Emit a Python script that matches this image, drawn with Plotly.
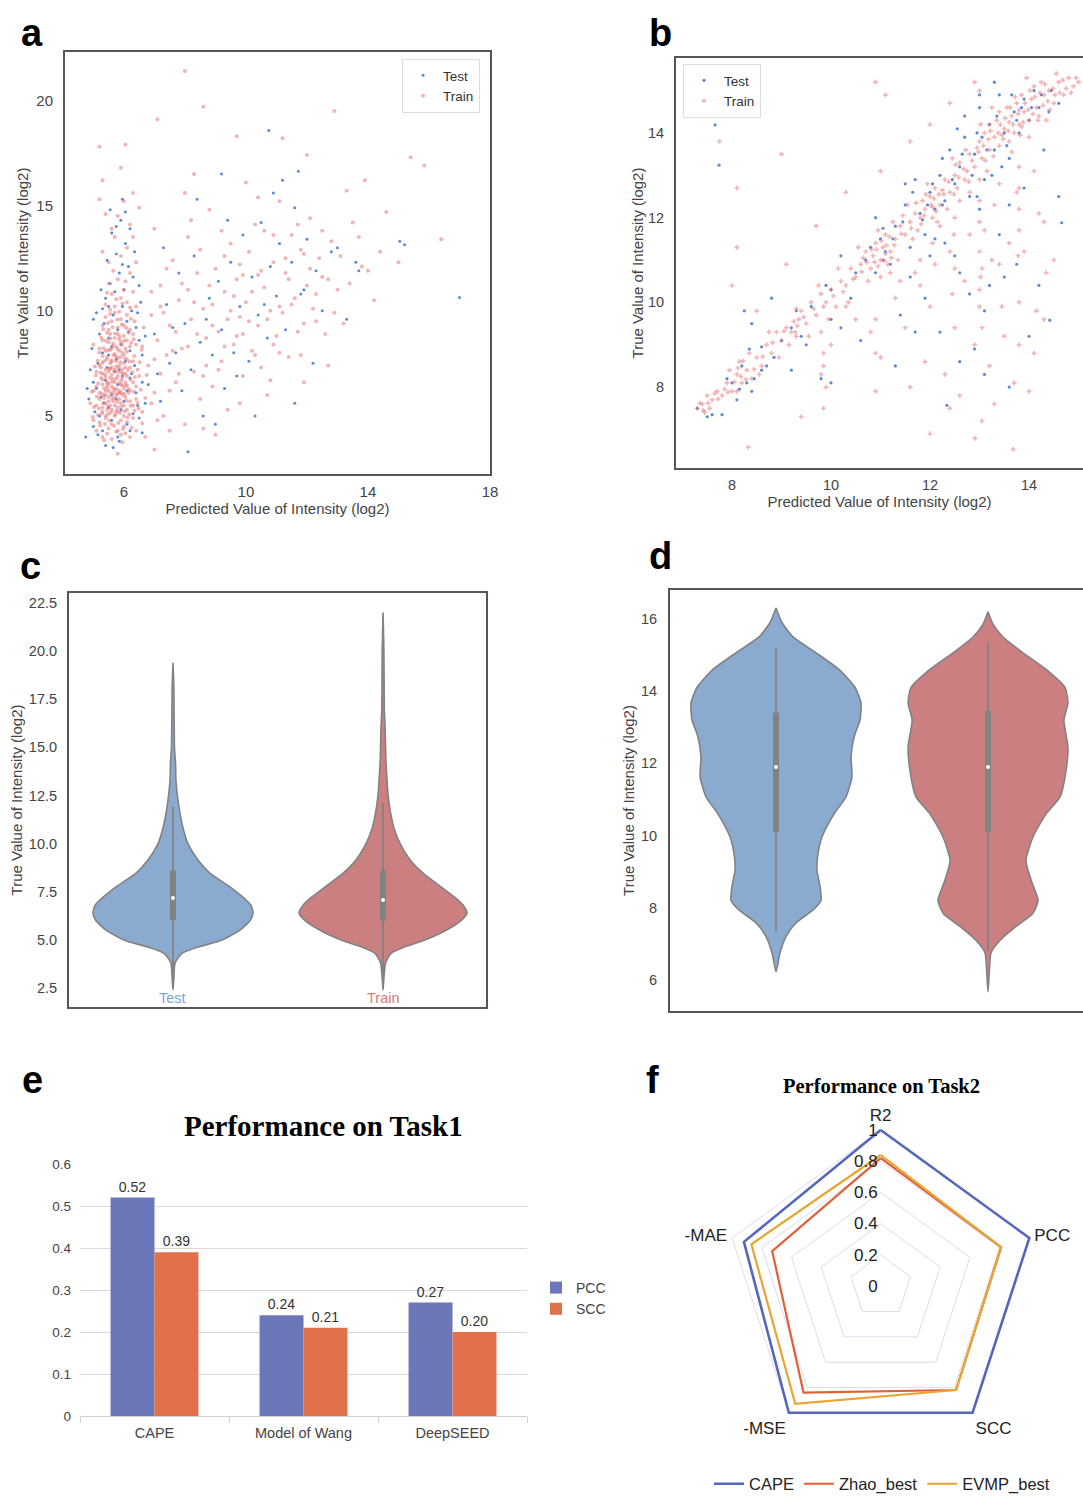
import plotly.graph_objects as go

W, H = 1083, 1496


def px(x):
    return x / W


def py(y):
    return 1 - y / H


# ---------------- data ----------------
# panel a: (predicted, true)
a_test = [
    (5.0, 4.5), (5.2, 5.0), (5.3, 4.3), (5.5, 5.4), (5.6, 4.8), (5.8, 4.0), (5.9, 5.3), (6.1, 4.6), (6.3, 5.1),
    (6.5, 4.9), (4.85, 5.8), (5.1, 6.3), (5.25, 5.9), (5.4, 6.7), (5.6, 6.0), (5.7, 7.1), (5.8, 6.5), (5.95, 6.9),
    (6.1, 6.2), (6.2, 6.8), (6.4, 6.1), (6.6, 6.6), (5.15, 7.5), (5.3, 8.0), (5.45, 7.3), (5.6, 8.3), (5.75, 7.7),
    (5.9, 8.4), (6.05, 7.6), (6.2, 8.1), (6.35, 7.4), (6.5, 8.6), (5.2, 8.9), (5.35, 9.4), (5.5, 8.7), (5.65, 9.8),
    (5.8, 9.1), (5.95, 10.2), (6.1, 9.5), (6.25, 10.0), (6.4, 9.2), (5.4, 10.6), (5.55, 11.3), (5.7, 10.9),
    (5.85, 11.8), (6.0, 11.0), (6.15, 12.1), (5.45, 12.4), (5.75, 12.7), (6.05, 13.2), (5.6, 13.7), (5.9, 14.3),
    (6.2, 13.9), (5.55, 14.8), (5.95, 15.3), (5.0, 9.6), (4.9, 7.2), (6.55, 10.4), (5.65, 3.5), (4.75, 4.0),
    (6.3, 11.6), (5.35, 5.6), (5.75, 5.8), (6.0, 5.7), (5.5, 7.9), (5.85, 7.2), (6.15, 9.0), (5.3, 10.1),
    (5.05, 5.2), (5.15, 4.1), (6.45, 5.5), (6.6, 7.9), (6.7, 8.8), (5.0, 6.6), (4.95, 8.2), (6.45, 9.9),
    (5.25, 11.0), (6.35, 12.8), (5.85, 3.8), (5.4, 3.6), (6.2, 4.3), (6.7, 5.6), (5.1, 9.9), (6.5, 11.2),
    (5.75, 14.0), (6.05, 14.7), (5.5, 10.2), (6.25, 7.0), (4.8, 6.3), (5.95, 12.2), (6.6, 4.2),
    (6.8, 6.5), (7.0, 8.9), (7.2, 5.7), (7.4, 10.3), (7.5, 7.5), (7.7, 8.0), (7.8, 11.8), (7.9, 6.2), (8.0, 9.4),
    (8.2, 7.2), (8.3, 12.6), (8.5, 8.5), (8.6, 5.0), (8.8, 10.6), (8.9, 7.9), (9.1, 11.4), (9.2, 9.1), (9.3, 6.3),
    (9.5, 12.3), (9.6, 8.0), (9.8, 10.2), (9.9, 13.6), (10.1, 7.6), (10.2, 11.6), (10.4, 9.8), (10.5, 14.2),
    (10.7, 8.7), (10.8, 12.1), (11.0, 10.7), (11.1, 13.2), (11.3, 9.1), (11.5, 12.3), (11.6, 5.6), (11.8, 10.8),
    (12.0, 13.4), (12.3, 11.9), (12.5, 10.0), (12.8, 12.8), (13.3, 9.6), (13.6, 12.3), (13.7, 11.9), (7.3, 13.0),
    (8.4, 15.3), (9.4, 14.3), (10.9, 15.6), (11.6, 14.9), (12.2, 7.5), (10.3, 5.0), (8.1, 3.3), (9.0, 4.6),
    (13.0, 13.0), (11.9, 11.0), (7.1, 7.0), (7.6, 9.2), (8.7, 9.6), (9.7, 6.9), (10.6, 10.3),
    (17.0, 10.63), (15.2, 13.14), (15.04, 13.3), (11.72, 16.63), (10.75, 18.57), (9.2, 16.5), (11.2, 16.2),
]
a_train = [
    (5.3, 4.0), (5.6, 3.9), (5.9, 4.1), (6.2, 4.0), (5.1, 4.3), (5.5, 4.4), (5.8, 4.3), (6.0, 4.5), (6.4, 4.3),
    (5.0, 4.8), (5.2, 4.7), (5.4, 4.9), (5.6, 4.6), (5.7, 5.0), (5.9, 4.8), (6.1, 4.7), (6.3, 4.9), (5.5, 5.1),
    (5.8, 5.2), (6.0, 5.0), (5.3, 5.2), (5.1, 5.5), (5.2, 5.8), (5.3, 5.4), (5.4, 5.6), (5.5, 5.9), (5.6, 5.3),
    (5.65, 5.7), (5.7, 5.5), (5.75, 6.0), (5.8, 5.4), (5.85, 5.8), (5.9, 5.6), (6.0, 5.5), (6.05, 5.9), (6.1, 5.3),
    (6.2, 5.7), (6.3, 5.5), (6.4, 5.8), (4.9, 5.6), (5.35, 6.0), (5.45, 5.3), (5.55, 5.5), (5.95, 6.0), (6.15, 6.1),
    (5.0, 6.2), (5.1, 6.4), (5.2, 6.1), (5.3, 6.5), (5.35, 6.3), (5.4, 6.0), (5.45, 6.6), (5.5, 6.2), (5.55, 6.8),
    (5.6, 6.4), (5.65, 6.1), (5.7, 6.6), (5.75, 6.3), (5.8, 6.9), (5.85, 6.2), (5.9, 6.5), (5.95, 6.8), (6.0, 6.3),
    (6.05, 6.6), (6.1, 6.9), (6.2, 6.2), (6.3, 6.6), (6.4, 6.4), (6.5, 6.9), (5.25, 6.8), (5.6, 6.95), (5.9, 6.1),
    (5.5, 6.55), (5.1, 7.1), (5.2, 7.4), (5.3, 7.0), (5.35, 7.6), (5.4, 7.2), (5.45, 7.8), (5.5, 7.1), (5.55, 7.5),
    (5.6, 7.3), (5.65, 7.9), (5.7, 7.2), (5.75, 7.6), (5.8, 7.1), (5.85, 7.4), (5.9, 7.8), (5.95, 7.2), (6.0, 7.5),
    (6.05, 7.0), (6.1, 7.7), (6.2, 7.3), (6.3, 7.6), (6.45, 7.2), (5.3, 7.85), (5.7, 7.95), (6.0, 7.9),
    (5.2, 8.2), (5.3, 8.6), (5.4, 8.1), (5.5, 8.5), (5.55, 8.9), (5.6, 8.2), (5.7, 8.7), (5.75, 8.3), (5.8, 8.9),
    (5.85, 8.1), (5.9, 8.5), (6.0, 8.8), (6.05, 8.2), (6.1, 8.6), (6.2, 8.3), (6.3, 8.9), (6.4, 8.4), (5.45, 8.95),
    (5.95, 8.0), (5.65, 8.45), (5.3, 9.3), (5.4, 9.7), (5.5, 9.1), (5.6, 9.5), (5.7, 9.9), (5.8, 9.2), (5.9, 9.6),
    (6.0, 9.3), (6.1, 9.8), (6.2, 9.1), (6.35, 9.5), (5.55, 9.85), (5.85, 9.95), (5.4, 10.3), (5.6, 10.8),
    (5.7, 10.2), (5.9, 10.6), (6.0, 11.0), (6.1, 10.4), (6.3, 10.9), (5.5, 11.3), (5.8, 11.5), (6.2, 11.8),
    (5.5, 12.3), (5.9, 12.6), (6.1, 13.0), (5.7, 13.5), (6.2, 14.1), (5.4, 14.6), (6.0, 15.2), (5.3, 16.2),
    (5.9, 16.8), (6.3, 15.6), (5.6, 13.9), (5.45, 6.35), (5.65, 6.75), (5.75, 5.25), (5.85, 6.55), (5.55, 7.25),
    (5.75, 7.35), (5.95, 6.45), (5.5, 5.7), (5.7, 5.85), (5.6, 7.65), (5.8, 7.75), (5.4, 6.85), (6.05, 7.3),
    (5.65, 6.3), (5.9, 7.05), (5.35, 5.85), (5.8, 6.05), (6.1, 6.45), (5.25, 7.3), (5.55, 8.15), (5.85, 8.65),
    (5.22, 4.55), (5.38, 4.62), (5.52, 4.78), (5.68, 4.52), (5.82, 4.66), (5.97, 4.38), (6.12, 4.92), (6.25, 4.44),
    (5.15, 5.05), (5.28, 5.12), (5.42, 5.02), (5.58, 5.18), (5.72, 5.08), (5.88, 5.15), (6.02, 5.22), (6.18, 5.08),
    (6.35, 5.25), (5.18, 5.35), (5.32, 5.62), (5.48, 5.45), (5.62, 5.82), (5.78, 5.68), (5.92, 5.42), (6.08, 5.72),
    (6.22, 5.48), (6.45, 5.62), (5.12, 5.92), (5.27, 6.05), (5.41, 6.18), (5.57, 6.08), (5.71, 6.22), (5.86, 6.12),
    (6.01, 6.05), (6.16, 6.28), (6.33, 6.15), (5.16, 6.55), (5.31, 6.72), (5.46, 6.48), (5.61, 6.62), (5.76, 6.78),
    (5.91, 6.68), (6.06, 6.45), (6.21, 6.72), (6.36, 6.85), (5.08, 6.92), (5.23, 7.05), (5.38, 6.98), (5.53, 7.22),
    (5.68, 7.12), (5.83, 7.28), (5.98, 7.02), (6.13, 7.18), (6.28, 7.08), (5.14, 7.62), (5.29, 7.52), (5.44, 7.68),
    (5.59, 7.58), (5.74, 7.82), (5.89, 7.55), (6.04, 7.72), (6.19, 7.58), (6.34, 7.85), (5.19, 8.02), (5.34, 8.22),
    (5.49, 8.12), (5.64, 8.32), (5.79, 8.18), (5.94, 8.38), (6.09, 8.05), (6.24, 8.48), (5.26, 8.72), (5.41, 8.58),
    (5.56, 8.68), (5.71, 8.92), (5.86, 8.78), (6.01, 8.58), (6.16, 8.95), (6.32, 8.65), (5.33, 9.12), (5.48, 9.42),
    (5.63, 9.22), (5.78, 9.58), (5.93, 9.35), (6.08, 9.18), (6.23, 9.62), (5.02, 5.42), (4.95, 6.15), (5.05, 7.35),
    (6.55, 6.25), (6.52, 7.55), (6.48, 5.35), (6.58, 8.15), (5.0, 8.4), (4.98, 4.95), (5.45, 4.15), (5.75, 4.25),
    (6.05, 4.18), (5.35, 3.85), (5.95, 3.75), (6.6, 4.65), (6.7, 5.85), (6.75, 6.95), (6.65, 9.2), (5.55, 10.05),
    (5.95, 10.35), (6.2, 10.15), (5.75, 10.55), (6.4, 10.2), (5.45, 10.85), (6.05, 11.4), (5.65, 11.9), (6.4, 12.3),
    (5.3, 12.8), (6.3, 13.5), (5.8, 14.5), (6.5, 14.9), (5.2, 15.3),
    (6.6, 5.2), (6.8, 7.4), (6.9, 9.8), (7.0, 6.1), (7.1, 8.6), (7.2, 11.2), (7.3, 5.0), (7.4, 7.9), (7.5, 9.3),
    (7.6, 12.4), (7.7, 6.6), (7.8, 10.5), (7.9, 8.2), (8.0, 4.6), (8.1, 13.5), (8.2, 9.6), (8.3, 7.1), (8.4, 11.8),
    (8.5, 5.8), (8.6, 10.1), (8.7, 8.7), (8.8, 14.8), (8.9, 6.4), (9.0, 12.0), (9.1, 9.0), (9.2, 7.6), (9.3, 10.9),
    (9.4, 5.3), (9.5, 13.2), (9.6, 8.4), (9.7, 11.5), (9.8, 9.7), (9.9, 6.9), (10.0, 10.4), (10.1, 12.8),
    (10.2, 8.1), (10.3, 14.1), (10.4, 9.3), (10.5, 7.3), (10.6, 11.1), (10.7, 6.0), (10.8, 10.0), (10.9, 12.3),
    (11.0, 8.8), (11.1, 15.2), (11.2, 9.9), (11.3, 11.8), (11.4, 7.8), (11.5, 13.6), (11.6, 10.6), (11.7, 9.0),
    (11.8, 12.9), (11.9, 6.6), (12.0, 11.2), (12.1, 14.4), (12.2, 10.1), (12.4, 12.5), (12.6, 8.9), (12.8, 13.3),
    (13.0, 11.0), (13.2, 9.4), (13.5, 14.2), (13.8, 12.1), (14.2, 10.5), (6.7, 4.0), (7.0, 13.9), (7.5, 4.3),
    (8.0, 15.6), (9.0, 4.1), (6.9, 10.9), (7.3, 9.9), (8.4, 8.9), (9.6, 10.7), (10.9, 8.4), (9.3, 8.3), (8.8, 11.2),
    (10.2, 10.9), (11.4, 11.5), (12.3, 9.5), (7.8, 7.0), (8.6, 6.9), (9.8, 12.2), (10.6, 13.8), (11.9, 12.7),
    (6.6, 8.3), (7.2, 10.2), (12.7, 7.4), (13.3, 15.7), (10.0, 16.1), (8.3, 16.5), (7.6, 8.1), (8.1, 11.0),
    (9.4, 9.6), (10.4, 11.7), (11.1, 10.2), (12.5, 11.6), (7.0, 7.7), (8.9, 9.3), (9.9, 8.9),
    (6.9, 5.6), (7.2, 7.0), (7.5, 6.2), (7.7, 9.0), (7.9, 11.3), (8.1, 8.3), (8.3, 10.4), (8.5, 12.9), (8.7, 7.4),
    (8.9, 10.3), (9.1, 7.2), (9.3, 12.6), (9.5, 10.0), (9.7, 8.8), (9.9, 11.7), (10.1, 9.5), (10.3, 7.9),
    (10.5, 11.9), (10.7, 9.6), (10.9, 13.6), (11.1, 8.0), (11.3, 12.5), (11.5, 10.3), (11.7, 14.1), (11.9, 9.4),
    (12.1, 12.0), (12.3, 10.8), (12.5, 13.8), (12.7, 11.5), (12.9, 9.9), (13.1, 12.6), (13.4, 11.3), (13.7, 13.5),
    (14.0, 11.9), (14.4, 12.8), (7.4, 12.0), (8.2, 14.3), (9.2, 13.8), (10.4, 15.4), (7.1, 4.8), (8.6, 4.4),
    (9.8, 5.6), (10.8, 6.7), (11.8, 7.9),
    (8.0, 21.4), (12.9, 19.5), (15.85, 16.9), (16.4, 13.4), (15.4, 17.3), (5.2, 17.8), (6.05, 17.9), (8.6, 19.7),
    (11.2, 18.2), (14.6, 14.7), (12.0, 17.4), (9.7, 18.3), (7.1, 19.1), (13.9, 16.2), (5.8, 3.2), (7.0, 3.4),
    (15.0, 12.3),
]

# panel b: (predicted, true)
b_test = [
    (7.3, 7.5), (7.5, 7.3), (7.6, 7.35), (7.8, 7.35), (7.9, 8.2), (8.1, 7.7), (8.2, 8.5), (8.3, 8.1), (8.4, 7.9),
    (8.35, 8.9), (8.25, 9.8), (8.4, 9.5), (8.6, 8.4), (8.6, 8.95), (8.8, 10.1), (9.0, 9.1), (9.2, 9.4), (9.4, 9.2),
    (9.6, 9.9), (9.9, 10.4), (10.0, 10.3), (10.2, 9.4), (10.5, 10.7), (10.7, 11.0), (10.8, 11.3), (10.9, 10.7),
    (11.0, 11.5), (11.1, 11.2), (11.2, 10.9), (11.3, 11.8), (11.5, 12.3), (11.6, 11.3), (11.7, 12.9), (11.8, 12.1),
    (11.9, 11.6), (12.0, 12.6), (12.1, 12.2), (12.2, 13.0), (12.3, 12.4), (12.4, 13.6), (12.5, 12.8), (12.6, 13.2),
    (12.7, 13.9), (12.8, 12.5), (12.9, 13.5), (13.0, 14.6), (13.05, 13.9), (13.1, 12.9), (13.2, 14.2), (13.3, 13.6),
    (13.4, 14.9), (13.5, 14.0), (13.6, 13.4), (13.7, 14.5), (13.8, 14.0), (13.9, 14.8), (14.0, 14.3), (14.1, 15.0),
    (14.2, 14.6), (14.4, 14.5), (14.6, 14.7), (14.66, 11.88), (14.42, 9.58), (12.34, 7.57), (13.6, 8.0),
    (7.66, 14.19), (7.74, 13.24), (12.8, 10.2), (12.5, 11.1), (13.4, 11.6), (13.9, 12.7), (11.9, 10.1), (12.2, 9.3),
    (13.1, 9.8), (13.5, 10.6), (11.4, 9.7), (10.6, 9.1), (9.8, 8.2), (9.2, 8.4), (10.0, 8.1), (11.3, 8.5),
    (11.7, 9.3), (12.6, 8.6), (14.2, 10.4), (14.6, 12.5), (13.1, 8.3), (10.2, 11.1), (9.3, 9.8), (10.9, 12.0),
    (11.5, 12.8), (12.7, 14.4), (13.3, 15.2), (8.7, 8.5), (8.0, 8.1), (11.05, 11.0), (11.95, 12.3), (12.95, 14.0),
    (13.75, 14.3), (13.25, 13.0), (12.1, 11.5),
    (11.05, 11.75), (11.25, 11.5), (11.45, 11.9), (11.65, 12.6), (11.85, 11.95), (12.05, 12.8), (12.25, 12.3),
    (12.45, 12.9), (12.65, 13.5), (12.85, 13.0), (13.15, 13.6), (13.35, 14.4), (13.55, 13.7), (13.65, 14.9),
    (13.85, 14.6), (14.05, 14.6), (14.25, 14.9), (14.45, 15.0), (12.95, 12.5), (13.0, 12.2), (13.45, 13.2),
    (12.3, 11.4), (12.6, 10.7), (13.2, 10.4), (13.75, 10.9), (12.9, 8.9), (14.0, 9.2), (10.4, 10.1), (10.0, 9.6),
    (9.5, 9.0), (8.85, 8.7), (8.45, 8.2), (8.15, 7.95), (12.0, 11.1), (11.6, 10.6), (13.6, 12.3), (14.3, 13.6),
    (13.0, 14.9), (12.55, 14.1), (12.25, 13.4),
]
b_train = [
    (7.3, 7.5), (7.4, 7.6), (7.45, 7.4), (7.5, 7.8), (7.6, 7.7), (7.7, 7.9), (7.8, 7.8), (7.9, 8.1), (8.0, 7.9),
    (8.1, 8.3), (8.15, 8.6), (8.2, 8.1), (8.3, 8.4), (8.4, 8.2), (8.5, 8.7), (8.6, 8.5), (8.7, 9.0), (8.8, 8.8),
    (8.9, 9.3), (9.0, 9.1), (9.1, 9.4), (9.2, 9.3), (9.3, 9.2), (9.35, 9.6), (9.4, 9.8), (9.5, 9.5), (9.6, 10.0),
    (9.7, 9.7), (9.8, 10.2), (9.9, 10.0), (10.0, 10.3), (10.1, 9.9), (10.2, 10.5), (10.3, 10.4), (10.4, 10.8),
    (10.5, 10.6), (10.6, 10.9), (10.7, 11.2), (10.8, 10.8), (10.85, 11.1), (10.9, 11.4), (11.0, 11.0),
    (11.05, 11.3), (11.1, 11.6), (11.15, 10.9), (11.2, 11.2), (11.3, 11.5), (11.4, 11.8), (11.5, 11.6),
    (11.6, 11.9), (11.7, 12.1), (11.8, 12.0), (11.85, 12.4), (11.9, 12.2), (12.0, 12.5), (12.05, 12.0),
    (12.1, 12.7), (12.2, 12.3), (12.3, 12.9), (12.4, 12.6), (12.5, 13.0), (12.55, 12.7), (12.6, 13.3),
    (12.7, 12.9), (12.8, 13.5), (12.9, 13.2), (13.0, 13.8), (13.05, 13.4), (13.1, 14.0), (13.15, 13.1),
    (13.2, 13.6), (13.3, 13.9), (13.35, 14.3), (13.4, 13.7), (13.5, 14.1), (13.55, 14.6), (13.6, 13.8),
    (13.65, 14.4), (13.7, 14.0), (13.75, 14.7), (13.8, 14.2), (13.85, 14.9), (13.9, 14.5), (14.0, 14.3),
    (14.05, 14.8), (14.1, 15.1), (14.15, 14.6), (14.2, 14.4), (14.3, 14.9), (14.4, 15.0), (14.5, 14.7),
    (14.6, 15.2), (14.7, 14.9), (14.8, 15.3), (14.9, 15.1), (13.8, 14.55), (13.6, 14.25), (13.4, 14.5),
    (13.2, 14.2), (13.0, 12.9), (12.8, 12.6), (12.6, 12.4), (12.45, 13.4), (12.35, 12.2), (12.15, 11.9),
    (11.95, 12.8), (11.75, 11.7), (11.55, 12.3), (11.35, 11.0), (11.25, 11.9), (11.0, 10.6), (10.95, 11.7),
    (10.75, 10.5), (10.55, 11.3), (10.35, 10.0), (10.15, 10.8), (9.95, 9.6), (9.75, 10.4), (9.55, 9.2),
    (9.3, 9.85), (9.15, 9.0), (8.95, 8.7), (8.75, 9.3), (8.55, 8.3), (8.35, 8.8), (8.1, 7.9), (7.95, 8.4),
    (7.55, 7.5), (14.0, 13.9), (14.35, 14.3), (14.55, 15.4), (13.95, 15.3), (14.25, 15.2),
    (13.85, 14.15), (13.65, 13.55), (13.45, 13.95), (13.25, 14.6), (12.95, 13.65), (12.75, 13.1), (12.25, 12.65),
    (12.05, 12.25), (11.65, 11.5), (11.45, 12.05), (10.95, 10.85), (10.65, 11.05), (11.1, 11.15), (11.2, 10.7),
    (7.35, 7.62), (7.42, 7.45), (7.52, 7.62), (7.65, 7.85), (7.72, 7.72), (7.85, 7.95), (7.92, 7.88), (8.05, 8.12),
    (8.12, 8.45), (8.18, 8.25), (8.22, 8.62), (8.28, 8.18), (8.45, 8.42), (8.62, 8.72), (8.82, 9.05), (9.05, 9.32),
    (9.25, 9.55), (9.28, 9.3), (9.32, 9.45), (9.45, 9.65), (9.65, 9.85), (9.85, 9.9), (10.05, 10.15),
    (10.25, 10.25), (10.45, 10.55), (10.62, 10.72), (10.72, 10.95), (10.82, 11.25), (10.88, 10.95), (10.92, 11.25),
    (11.02, 11.45), (11.08, 10.98), (11.12, 11.35), (11.18, 11.55), (11.22, 11.05), (11.28, 11.35), (11.42, 11.62),
    (11.62, 11.75), (11.72, 12.35), (11.82, 11.85), (11.88, 12.05), (11.92, 12.55), (12.02, 12.3), (12.08, 12.45),
    (12.12, 12.15), (12.18, 12.55), (12.28, 12.55), (12.38, 12.85), (12.48, 12.55), (12.52, 13.25), (12.58, 12.95),
    (12.68, 13.15), (12.72, 13.6), (12.78, 12.85), (12.85, 13.35), (12.98, 13.55), (13.02, 14.2), (13.08, 13.7),
    (13.12, 13.35), (13.18, 13.85), (13.22, 14.05), (13.28, 13.45), (13.38, 14.0), (13.42, 14.2), (13.48, 13.85),
    (13.52, 14.35), (13.58, 14.05), (13.62, 14.6), (13.68, 14.2), (13.72, 14.85), (13.78, 14.45), (13.82, 13.95),
    (13.88, 14.25), (13.92, 14.7), (13.98, 14.55), (14.02, 15.0), (14.08, 14.45), (14.12, 14.85), (14.18, 14.3),
    (14.22, 14.95), (14.28, 14.65), (14.32, 15.15), (14.38, 14.75), (14.42, 14.55), (14.48, 15.05), (14.52, 14.9),
    (14.62, 14.95), (14.68, 15.25), (14.75, 15.05), (14.85, 14.95), (14.95, 15.3), (15.0, 15.2),
    (13.0, 12.4), (13.0, 11.9), (13.0, 11.2), (13.02, 10.6), (13.0, 9.9), (13.8, 13.2), (13.8, 12.7), (13.8, 12.2),
    (13.78, 11.1), (12.5, 12.0), (12.48, 11.6), (12.5, 10.8), (11.8, 11.0), (11.8, 10.4), (12.05, 11.4),
    (9.85, 8.8), (9.85, 8.5), (9.85, 7.5), (10.9, 9.6), (10.9, 8.8), (13.45, 9.9), (13.25, 11.0), (14.3, 11.9),
    (14.35, 10.7), (14.15, 9.8),
    (10.0, 9.0), (10.5, 9.6), (10.8, 9.3), (11.0, 8.7), (11.3, 10.1), (11.5, 9.4), (11.7, 10.7), (11.9, 8.6),
    (12.0, 9.9), (12.1, 10.9), (12.3, 8.3), (12.4, 11.2), (12.5, 9.4), (12.6, 7.8), (12.7, 10.5), (12.8, 11.6),
    (12.9, 9.0), (13.0, 10.3), (13.05, 7.2), (13.1, 11.7), (13.2, 8.5), (13.3, 12.3), (13.4, 10.9), (13.5, 9.2),
    (13.6, 11.4), (13.7, 8.1), (13.75, 12.6), (13.8, 10.0), (13.9, 11.2), (14.1, 8.8), (14.2, 12.1), (14.3, 9.6),
    (14.5, 11.0), (14.1, 13.1), (13.4, 12.8), (12.2, 11.8), (11.4, 10.5), (10.3, 9.9), (9.8, 9.3), (9.9, 8.0),
    (9.8, 8.3), (12.91, 6.79), (13.68, 6.53), (8.33, 6.58), (13.3, 7.6), (12.0, 6.9), (9.4, 7.3), (10.9, 7.9),
    (11.6, 8.0), (12.4, 7.5), (14.0, 7.9), (13.05, 9.4), (13.05, 10.8), (13.8, 9.0), (13.8, 11.7), (12.45, 10.2),
    (7.75, 13.8), (9.0, 13.5), (10.9, 15.2), (11.1, 14.9), (8.1, 12.7), (8.1, 11.3), (8.0, 10.4), (8.5, 9.8),
    (9.1, 10.9), (9.7, 11.8), (10.3, 12.6), (11.0, 13.1), (11.6, 13.8), (12.0, 14.2), (12.4, 14.7), (12.9, 15.2),
    (13.0, 15.0),
]

# panel c violins: value levels and half widths (category units)
c_test_levels = [2.4, 3.0, 3.8, 4.3, 4.6, 4.95, 5.5, 6.0, 6.4, 6.8, 7.07, 7.75, 8.47, 9.15, 10.0, 10.8, 11.6,
                 12.5, 13.3, 14.2, 15.0, 16.0, 17.0, 18.2, 19.4]
c_test_halfwidth = [0, .004, .01, .043, .11, .224, .319, .367, .381, .371, .348, .271, .176, .119, .071, .048,
                    .033, .021, .014, .012, .007, .006, .005, .004, 0]
c_train_levels = [2.4, 3.0, 3.8, 4.3, 4.6, 4.95, 5.5, 6.0, 6.4, 6.8, 7.07, 7.75, 8.47, 9.15, 10.0, 10.8, 11.6,
                  12.5, 13.3, 14.2, 15.0, 15.9, 17.0, 18.5, 20.0, 22.0]
c_train_halfwidth = [0, .004, .012, .038, .095, .19, .3, .371, .4, .381, .357, .276, .19, .129, .081, .052,
                     .036, .024, .019, .014, .012, .01, .006, .005, .004, 0]
# box stats: [whisker low, q1, median, q3, whisker high]
c_test_box = [2.5, 6.03, 7.17, 8.6, 11.9]
c_train_box = [2.5, 6.0, 7.07, 8.6, 12.1]

# panel d violins
d_test_levels = [6.23, 6.75, 7.2, 7.58, 7.94, 8.2, 8.58, 9.05, 9.5, 9.96, 10.6, 11.07, 11.62, 12.18, 12.73,
                 13.2, 13.67, 14.1, 14.6, 15.06, 15.5, 15.9, 16.3]
d_test_halfwidth = [0, .019, .047, .094, .175, .212, .208, .193, .198, .217, .274, .33, .358, .354, .368, .396,
                    .401, .373, .297, .189, .08, .028, 0]
d_train_levels = [5.67, 6.3, 6.75, 7.1, 7.48, 7.85, 8.2, 8.77, 9.3, 9.96, 10.6, 11.07, 11.8, 12.45, 13.2, 13.67,
                  14.1, 14.6, 15.06, 15.5, 15.85, 16.2]
d_train_halfwidth = [0, .007, .014, .057, .132, .212, .236, .203, .179, .212, .274, .34, .368, .377, .358, .377,
                     .363, .274, .165, .071, .024, 0]
d_test_box = [7.33, 10.1, 11.9, 13.4, 15.2]
d_train_box = [6.8, 10.1, 11.9, 13.45, 15.35]

# panel e
bar_models = ["CAPE", "Model of Wang", "DeepSEED"]
bar_pcc = [0.52, 0.24, 0.27]
bar_scc = [0.39, 0.21, 0.20]

# panel f
radar_axes = ["R2", "PCC", "SCC", "-MSE", "-MAE"]
radar_cape = [1.0, 1.0, 1.0, 1.0, 0.92]
radar_zhao = [0.82, 0.81, 0.82, 0.84, 0.73]
radar_evmp = [0.84, 0.81, 0.82, 0.93, 0.87]
radar_ticks = [0, 0.2, 0.4, 0.6, 0.8, 1]

# ---------------- styles ----------------
FONT = "Liberation Sans, Arial, sans-serif"
SERIF = "Liberation Serif, Times New Roman, serif"
FRAME = "#5a5457"
TICKC = "#444444"
BLUE_PT = "rgba(66,118,204,0.85)"
PINK_PT = "rgba(232,120,120,0.55)"
VBLUE = "#8aaacf"
VRED = "#cc7f80"
GREY = "#828282"

fig = go.Figure()

# ---- a ----
fig.add_trace(go.Scatter(x=[p[0] for p in a_test], y=[p[1] for p in a_test], mode="markers", name="Test",
                         marker=dict(size=3, color=BLUE_PT), xaxis="x", yaxis="y", legend="legend"))
fig.add_trace(go.Scatter(x=[p[0] for p in a_train], y=[p[1] for p in a_train], mode="markers", name="Train",
                         marker=dict(size=4, color=PINK_PT), xaxis="x", yaxis="y", legend="legend"))

# ---- b ----
fig.add_trace(go.Scatter(x=[p[0] for p in b_test], y=[p[1] for p in b_test], mode="markers", name="Test",
                         marker=dict(size=3.2, color=BLUE_PT), xaxis="x2", yaxis="y2", legend="legend2"))
fig.add_trace(go.Scatter(x=[p[0] for p in b_train], y=[p[1] for p in b_train], mode="markers", name="Train",
                         marker=dict(size=4, symbol="cross", color=PINK_PT), xaxis="x2", yaxis="y2",
                         legend="legend2"))


# ---- violins ----
def add_violin(center, levels, hw, box, fill, xa, ya):
    xs = [center + w for w in hw] + [center - w for w in reversed(hw)]
    ys = list(levels) + list(reversed(levels))
    fig.add_trace(go.Scatter(x=xs, y=ys, mode="lines", fill="toself", fillcolor=fill,
                             line=dict(color=GREY, width=1.6, shape="spline", smoothing=0.6),
                             showlegend=False, hoverinfo="skip", xaxis=xa, yaxis=ya))
    fig.add_trace(go.Scatter(x=[center, center], y=[box[0], box[4]], mode="lines",
                             line=dict(color=GREY, width=1.8), showlegend=False, xaxis=xa, yaxis=ya))
    fig.add_trace(go.Scatter(x=[center, center], y=[box[1], box[3]], mode="lines",
                             line=dict(color=GREY, width=6), showlegend=False, xaxis=xa, yaxis=ya))
    fig.add_trace(go.Scatter(x=[center], y=[box[2]], mode="markers",
                             marker=dict(color="white", size=4), showlegend=False, xaxis=xa, yaxis=ya))


add_violin(0, c_test_levels, c_test_halfwidth, c_test_box, VBLUE, "x3", "y3")
add_violin(1, c_train_levels, c_train_halfwidth, c_train_box, VRED, "x3", "y3")
add_violin(0, d_test_levels, d_test_halfwidth, d_test_box, VBLUE, "x4", "y4")
add_violin(1, d_train_levels, d_train_halfwidth, d_train_box, VRED, "x4", "y4")

# ---- e ----
fig.add_trace(go.Bar(x=bar_models, y=bar_pcc, name="PCC", marker=dict(color="#6b77b8"),
                     texttemplate="%{y:.2f}", textposition="outside", cliponaxis=False,
                     textfont=dict(size=14, color="#333333"), xaxis="x5", yaxis="y5", legend="legend3"))
fig.add_trace(go.Bar(x=bar_models, y=bar_scc, name="SCC", marker=dict(color="#e0714a"),
                     texttemplate="%{y:.2f}", textposition="outside", cliponaxis=False,
                     textfont=dict(size=14, color="#333333"), xaxis="x5", yaxis="y5", legend="legend3"))

# ---- f ----
for name, vals, col, wd in [("CAPE", radar_cape, "#5566bb", 2.6), ("Zhao_best", radar_zhao, "#e0603a", 2.2),
                            ("EVMP_best", radar_evmp, "#e8a532", 2.2)]:
    fig.add_trace(go.Scatterpolar(r=vals + vals[:1], theta=radar_axes + radar_axes[:1], mode="lines", name=name,
                                  line=dict(color=col, width=wd), cliponaxis=False, subplot="polar",
                                  legend="legend4"))


def scatter_axis(rng, tickvals, domain, title=None, anchor=None, tickformat=None, standoff=5, tls=8,
                 showticklabels=True, fontsize=14.5):
    d = dict(range=rng, tickvals=tickvals, domain=domain, showline=True, mirror=True, linecolor=FRAME,
             linewidth=2, showgrid=False, zeroline=False, ticks="", tickfont=dict(size=fontsize, color=TICKC),
             ticklabelstandoff=tls, showticklabels=showticklabels, anchor=anchor)
    if tickformat:
        d["tickformat"] = tickformat
    if title:
        d["title"] = dict(text=title, font=dict(size=15, color=TICKC), standoff=standoff)
    return d


XT = "Predicted Value of Intensity (log2)"
YT = "True Value of Intensity (log2)"

RMAX = 1.03
R1 = 156.3 * RMAX  # pixel radius of the polar frame
CX, CY = 880.7, 1286.3

layout = dict(
    width=W, height=H, margin=dict(l=0, r=0, t=0, b=0, autoexpand=False), autosize=False,
    paper_bgcolor="white", plot_bgcolor="white", template="none",
    font=dict(family=FONT, color=TICKC),
    xaxis=scatter_axis([4.07, 18], [6, 10, 14, 18], [px(65), px(490)], XT, "y", standoff=4, tls=3,
                       fontsize=15),
    yaxis=scatter_axis([2.24, 22.3], [5, 10, 15, 20], [py(474), py(52)], YT, "x", standoff=4, tls=7,
                       fontsize=15),
    xaxis2=scatter_axis([6.87, 15.09], [8, 10, 12, 14], [px(676), 1.0], XT, "y2", standoff=4, tls=3),
    yaxis2=scatter_axis([6.09, 15.77], [8, 10, 12, 14], [py(468), py(58)], YT, "x2", standoff=1, tls=7),
    xaxis3=scatter_axis([-0.495, 1.49], [0, 1], [px(69), px(486)], None, "y3", showticklabels=False),
    yaxis3=scatter_axis([1.51, 23.02], [2.5, 5, 7.5, 10, 12.5, 15, 17.5, 20, 22.5], [py(1007), py(593)], YT,
                        "x3", tickformat=".1f", standoff=3, tls=7),
    xaxis4=scatter_axis([-0.5, 1.448], [0, 1], [px(670), 1.0], None, "y4", showticklabels=False),
    yaxis4=scatter_axis([5.14, 16.8], [6, 8, 10, 12, 14, 16], [py(1011), py(590)], YT, "x4", standoff=3,
                        tls=8),
    xaxis5=dict(domain=[px(80), px(527)], anchor="y5", type="category", showline=True, linecolor="#d0d0d0",
                linewidth=1, ticks="outside", tickson="boundaries", ticklen=6, tickcolor="#d0d0d0",
                tickfont=dict(size=14.5, color=TICKC), showgrid=False, zeroline=False, ticklabelstandoff=4),
    yaxis5=dict(domain=[py(1416), py(1164)], anchor="x5", range=[0, 0.6], dtick=0.1, showgrid=True,
                gridcolor="#d9d9d9", gridwidth=1, zeroline=False, showline=False, ticks="",
                tickfont=dict(size=13.5, color=TICKC), ticklabelstandoff=8),
    bargap=0.41, bargroupgap=0,
    polar=dict(
        domain=dict(x=[px(CX - R1), px(CX + R1)], y=[py(CY + R1), py(CY - R1)]),
        gridshape="linear", bgcolor="white",
        radialaxis=dict(range=[0, RMAX], tickvals=radar_ticks,
                        ticktext=["0", "0.2", "0.4", "0.6", "0.8", "1"],
                        angle=90, side="counterclockwise", tickangle=90, showline=False, ticks="",
                        gridcolor="#dcdce8", gridwidth=1, tickfont=dict(size=17, color="#222222")),
        angularaxis=dict(rotation=90, direction="clockwise", showgrid=False, showline=False,
                         ticks="", tickfont=dict(size=17, color="#222222")),
    ),
    legend=dict(x=px(402), y=py(59), xanchor="left", yanchor="top", bgcolor="white", bordercolor="#dddddd",
                borderwidth=1, font=dict(size=13.5, color="#333333"), itemwidth=30),
    legend2=dict(x=px(683), y=py(64), xanchor="left", yanchor="top", bgcolor="white", bordercolor="#dddddd",
                 borderwidth=1, font=dict(size=13.5, color="#333333"), itemwidth=30),
    legend3=dict(x=px(536), y=py(1272), xanchor="left", yanchor="top", bgcolor="rgba(0,0,0,0)",
                 font=dict(size=14, color="#444444"), itemwidth=30, tracegroupgap=0),
    legend4=dict(x=px(882), y=py(1484), xanchor="center", yanchor="middle", orientation="h",
                 bgcolor="rgba(0,0,0,0)", font=dict(size=16.5, color="#222222"), itemwidth=30),
)
fig.update_layout(**layout)

annotations = []
for letter, x, y in [("a", 32, 33), ("b", 660, 33), ("c", 30, 566), ("d", 660, 556), ("e", 32, 1080),
                     ("f", 652, 1080)]:
    annotations.append(dict(text=f"<b>{letter}</b>", x=px(x), y=py(y), xref="paper", yref="paper",
                            showarrow=False, xanchor="center", yanchor="middle",
                            font=dict(size=38, color="black", family=FONT)))
annotations.append(dict(text="<b>Performance on Task1</b>", x=px(323), y=py(1126), xref="paper", yref="paper",
                        showarrow=False, xanchor="center", yanchor="middle",
                        font=dict(size=29, color="black", family=SERIF)))
annotations.append(dict(text="<b>Performance on Task2</b>", x=px(881), y=py(1086), xref="paper", yref="paper",
                        showarrow=False, xanchor="center", yanchor="middle",
                        font=dict(size=20.5, color="black", family=SERIF)))
annotations.append(dict(text="Test", x=0, y=2.0, xref="x3", yref="y3", showarrow=False, xanchor="center",
                        yanchor="middle", font=dict(size=14.5, color="#7ba3d6")))
annotations.append(dict(text="Train", x=1, y=2.0, xref="x3", yref="y3", showarrow=False, xanchor="center",
                        yanchor="middle", font=dict(size=14.5, color="#d9777a")))
fig.update_layout(annotations=annotations)

fig.write_html("out.html", config={"displayModeBar": False},
               post_script="document.body.style.margin='0px';document.body.style.overflow='hidden';")
